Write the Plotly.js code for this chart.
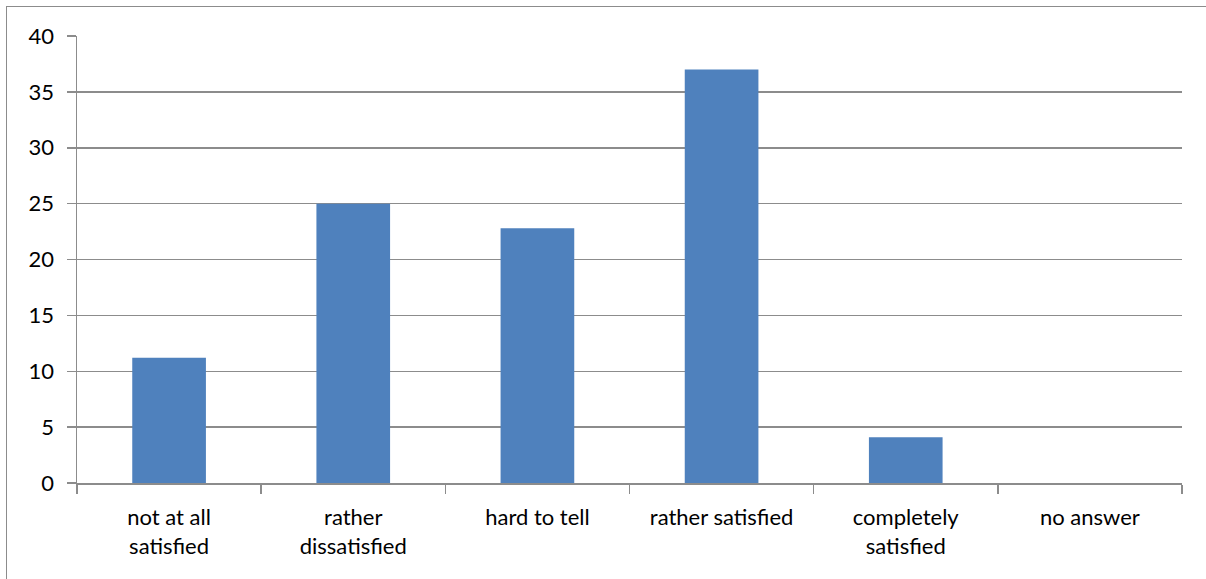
<!DOCTYPE html>
<html>
<head>
<meta charset="utf-8">
<script src="https://cdn.plot.ly/plotly-3.0.1.min.js"></script>
<style>
  html, body { margin: 0; padding: 0; background: #fff; }
  #wrap { position: relative; width: 1206px; height: 579px; overflow: hidden; }
  #chart { position: absolute; left: 0; top: 0; width: 1206px; height: 579px; }
  #frame { position: absolute; left: 6px; top: 6px; width: 1300px; height: 700px;
           border-left: 1.5px solid #8c8c8c; border-top: 1.5px solid #8c8c8c; pointer-events: none; }
</style>
</head>
<body>
<div id="wrap">
  <div id="chart"></div>
  <div id="frame"></div>
</div>
<script>
const categories = ["not at all<br>satisfied", "rather<br>dissatisfied", "hard to tell", "rather satisfied", "completely<br>satisfied", "no answer"];
const values = [11.2, 25.0, 22.8, 37.0, 4.1, 0];
const yTicks = [0, 5, 10, 15, 20, 25, 30, 35, 40];

const font = { family: "Lato, 'Open Sans', sans-serif", size: 22, color: "#000" };

Plotly.newPlot("chart", [{
  type: "bar",
  x: categories,
  y: values,
  marker: { color: "#4F81BD", line: { width: 0 } },
  hoverinfo: "none"
}], {
  width: 1206,
  height: 579,
  margin: { l: 77, r: 24, t: 36, b: 96, pad: 0 },
  paper_bgcolor: "#fff",
  plot_bgcolor: "#fff",
  bargap: 0.6,
  showlegend: false,
  font: font,
  xaxis: {
    type: "category",
    tickson: "boundaries",
    ticks: "outside",
    ticklen: 9,
    tickwidth: 1.5,
    tickcolor: "#8c8c8c",
    showline: true,
    linecolor: "#8c8c8c",
    linewidth: 1.5,
    showgrid: false,
    zeroline: false,
    tickfont: font,
    ticklabelstandoff: 14
  },
  yaxis: {
    range: [0, 40],
    tickvals: yTicks,
    ticktext: yTicks.map(String),
    ticks: "outside",
    ticklen: 9,
    tickwidth: 1.5,
    tickcolor: "#8c8c8c",
    showline: true,
    linecolor: "#8c8c8c",
    linewidth: 1.5,
    showgrid: true,
    gridcolor: "#8c8c8c",
    gridwidth: 1.5,
    zeroline: false,
    tickfont: font,
    ticklabelstandoff: 8
  }
}, { staticPlot: true });
</script>
</body>
</html>
